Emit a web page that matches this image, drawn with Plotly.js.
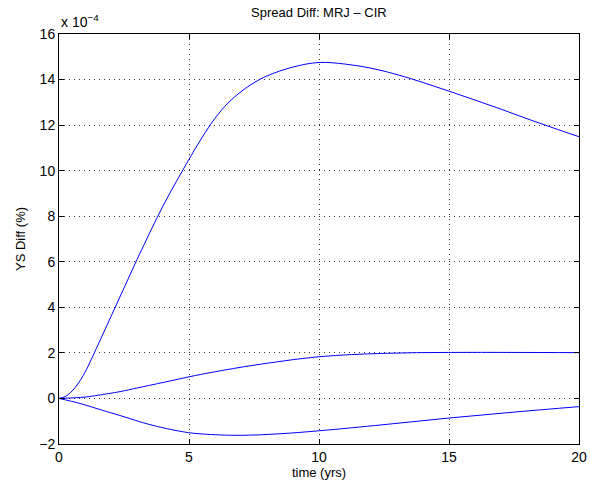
<!DOCTYPE html>
<html>
<head>
<meta charset="utf-8">
<script src="https://cdn.plot.ly/plotly-3.0.1.min.js"></script>
<style>html,body{margin:0;padding:0;background:#fff;}</style>
</head>
<body>
<div id="chart" style="width:590px;height:489px;"></div>
<script>
// Values in units of 1e-4 (%)
const tTop = [0, 0.25, 0.5, 0.75, 1, 1.5, 2, 2.5, 3, 3.5, 4, 4.5, 5, 5.5, 6, 6.5, 7, 7.5, 8, 9, 10, 11, 12, 13, 14, 15, 16, 17, 18, 19, 20];
const vTop = [0, 0.09, 0.32, 0.68, 1.15, 2.35, 3.6, 4.85, 6.1, 7.3, 8.45, 9.5, 10.5, 11.45, 12.3, 12.97, 13.47, 13.86, 14.16, 14.55, 14.75, 14.68, 14.5, 14.22, 13.87, 13.49, 13.1, 12.7, 12.28, 11.88, 11.49];

const tMid = [0, 1, 1.5, 2.35, 3, 4, 5, 6, 7.5, 10, 12.5, 15, 17.5, 20];
const vMid = [0, 0.06, 0.14, 0.30, 0.46, 0.70, 0.95, 1.17, 1.46, 1.83, 1.98, 2.02, 2.02, 2.01];

const tLow = [0, 0.81, 1.64, 2.35, 3.5, 4.8, 5.5, 7, 8.5, 10, 12.5, 15, 17.5, 20];
const vLow = [0, -0.22, -0.51, -0.75, -1.15, -1.47, -1.56, -1.62, -1.55, -1.42, -1.15, -0.86, -0.6, -0.36];

const xTicks = [0, 5, 10, 15, 20];
const yTicks = [-2, 0, 2, 4, 6, 8, 10, 12, 14, 16];

const font = 'Liberation Sans, Arial, Helvetica, sans-serif';
const lineStyle = {color: '#0000ff', width: 1, shape: 'spline', smoothing: 1};

const traces = [
  {x: tTop, y: vTop, mode: 'lines', line: lineStyle, hoverinfo: 'skip'},
  {x: tMid, y: vMid, mode: 'lines', line: lineStyle, hoverinfo: 'skip'},
  {x: tLow, y: vLow, mode: 'lines', line: lineStyle, hoverinfo: 'skip'}
];

const axisCommon = {
  showline: true, linecolor: '#000', linewidth: 1, mirror: 'ticks',
  ticks: 'inside', ticklen: 5, tickcolor: '#000',
  showgrid: true, gridcolor: '#333', griddash: '1px,4px', gridwidth: 1,
  zeroline: false, tickfont: {family: font, size: 14, color: '#000'}
};

const layout = {
  width: 590, height: 489,
  margin: {l: 59, r: 11, t: 34, b: 45},
  paper_bgcolor: '#fff', plot_bgcolor: '#fff',
  showlegend: false,
  title: {text: 'Spread Diff: MRJ \u2013 CIR', font: {family: font, size: 13, color: '#000'},
          x: 0.5405, xanchor: 'center', y: 0.975, yanchor: 'middle'},
  xaxis: Object.assign({}, axisCommon, {
    range: [0, 20], tickvals: xTicks, ticktext: xTicks.map(String),
    title: {text: 'time (yrs)', font: {family: font, size: 13, color: '#000'}, standoff: 4}
  }),
  yaxis: Object.assign({}, axisCommon, {
    range: [-2, 16], tickvals: yTicks,
    title: {text: 'YS Diff (%)', font: {family: font, size: 13, color: '#000'}, standoff: 10}
  }),
  annotations: [{
    xref: 'paper', yref: 'paper', x: 0, y: 1, xanchor: 'left', yanchor: 'bottom',
    yshift: 2, text: 'x 10<sup>\u22124</sup>', showarrow: false,
    font: {family: font, size: 14, color: '#000'}
  }]
};

Plotly.newPlot('chart', traces, layout, {displayModeBar: false, staticPlot: true});
</script>
</body>
</html>
